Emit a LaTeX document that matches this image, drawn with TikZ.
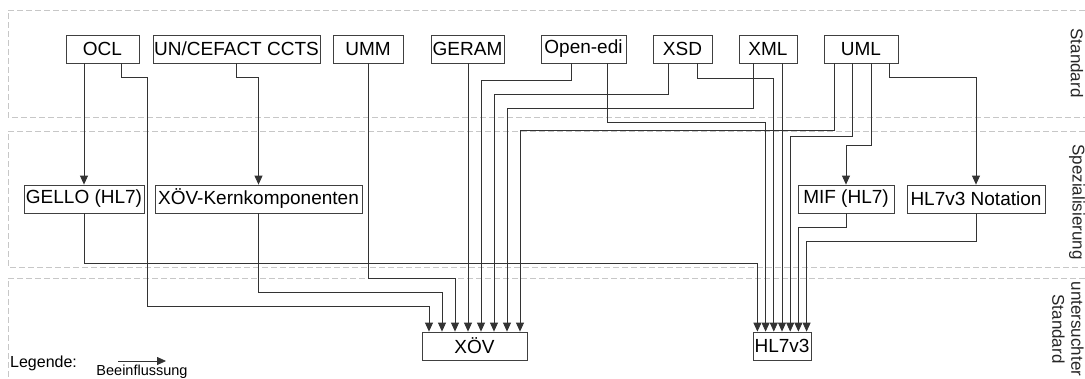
\documentclass[tikz,border=0pt]{standalone}
\usepackage{fontspec}
\setmainfont{Liberation Sans}
\usepackage{xcolor}
\usepackage{tikz}
\usetikzlibrary{arrows.meta}

\begin{document}
\begin{tikzpicture}[
    x={(1pt,0)}, y={(0,-1pt)},
    std_box/.style={draw=black!75, line width=0.8pt, fill=white, minimum height=28pt, inner sep=0pt, font=\fontsize{19}{21}\selectfont},
    infl_line/.style={line width=0.8pt, draw=black!80, -{Triangle[length=9pt,width=8pt]}},
    band_line/.style={draw=black!22, line width=0.8pt, dash pattern=on 6pt off 3pt},
    band_label/.style={rotate=-90, align=center, font=\fontsize{17}{19}\selectfont, text=black!85}
]
    \useasboundingbox (0,0) rectangle (1085,378);

    % Bands
    \draw [band_line] (1085,10) -- (8,10) -- (8,117) -- (1085,117);
    \draw [band_line] (1085,131) -- (8,131) -- (8,267) -- (1085,267);
    \draw [band_line] (1085,278) -- (8,278) -- (8,378);
    \node (lbl_std) [band_label] at (1077,63) {Standard};
    \node (lbl_spez) [band_label] at (1077,202) {Spezialisierung};
    \node (lbl_unt) [band_label] at (1068,329) {untersuchter\\Standard};

    % Standards
    \node (ocl) [std_box, minimum width=73pt] at (102.5,49) {OCL};
    \node (ccts) [std_box, minimum width=167pt] at (236.5,49) {UN/CEFACT CCTS};
    \node (umm) [std_box, minimum width=70pt] at (368,49) {UMM};
    \node (geram) [std_box, minimum width=73pt] at (467.5,49) {GERAM};
    \node (openedi) [std_box, minimum width=85pt] at (583.5,49) {Open-edi};
    \node (xsd) [std_box, minimum width=59pt] at (682.5,49) {XSD};
    \node (xml) [std_box, minimum width=58pt] at (768,49) {XML};
    \node (uml) [std_box, minimum width=74pt] at (861,49) {UML};

    % Specialisations
    \node (gello) [std_box, minimum width=120pt] at (84,199) {GELLO (HL7)};
    \node (kern) [std_box, minimum width=207pt] at (258.5,199) {XÖV-Kernkomponenten};
    \node (mif) [std_box, minimum width=96pt] at (846,199) {MIF (HL7)};
    \node (notation) [std_box, minimum width=138pt] at (976,199) {HL7v3 Notation};

    % Examined standards
    \node (xoev) [std_box, minimum width=105pt] at (474.5,346) {XÖV};
    \node (hl7) [std_box, minimum width=58pt] at (782,346) {HL7v3};

    % Influences
    \draw [infl_line] (gello.north |- ocl.south) -- (gello.north);
    \draw [infl_line] ([xshift=18.5]ocl.south) -- ++(0,14) -| (147,306) -| ([xshift=-45.5]xoev.north);
    \draw [infl_line] (ccts.south) -- ++(0,14) -| (kern.north);
    \draw [infl_line] (kern.south) -- ++(0,79) -| ([xshift=-32.5]xoev.north);
    \draw [infl_line] (gello.south) -- ++(0,50) -| ([xshift=-24.6]hl7.north);
    \draw [infl_line] (umm.south) -- ++(0,215) -| ([xshift=-19.5]xoev.north);
    \draw [infl_line] ([xshift=-6.5]xoev.north |- geram.south) -- ([xshift=-6.5]xoev.north);
    \draw [infl_line] ([xshift=-12.5]openedi.south) -- ++(0,17) -| ([xshift=6.5]xoev.north);
    \draw [infl_line] ([xshift=23.5]openedi.south) -- ++(0,59) -| ([xshift=-16.4]hl7.north);
    \draw [infl_line] ([xshift=-14.5]xsd.south) -- ++(0,31) -| ([xshift=19.5]xoev.north);
    \draw [infl_line] ([xshift=14.5]xsd.south) -- ++(0,15) -| ([xshift=-8.2]hl7.north);
    \draw [infl_line] ([xshift=-15]xml.south) -- ++(0,45) -| ([xshift=32.5]xoev.north);
    \draw [infl_line] (hl7.north |- xml.south) -- (hl7.north);
    \draw [infl_line] ([xshift=-27]uml.south) -- ++(0,67) -| ([xshift=45.5]xoev.north);
    \draw [infl_line] ([xshift=-9]uml.south) -- ++(0,73) -| ([xshift=8.2]hl7.north);
    \draw [infl_line] ([xshift=10]uml.south) -- ++(0,82) -| (mif.north);
    \draw [infl_line] ([xshift=28]uml.south) -- ++(0,14) -| (notation.north);
    \draw [infl_line] (mif.south) -- ++(0,14) -| ([xshift=16.4]hl7.north);
    \draw [infl_line] (notation.south) -- ++(0,28) -| ([xshift=24.6]hl7.north);

    % Legend
    \node (legend) [anchor=west, inner sep=0pt, font=\fontsize{16}{18}\selectfont] at (10,363) {Legende:};
    \coordinate (leg_from) at (118,361);
    \coordinate (leg_to) at (166,361);
    \draw [infl_line] (leg_from) -- (leg_to);
    \node (leg_text) [inner sep=0pt, font=\fontsize{14.5}{16}\selectfont] at (142,372) {Beeinflussung};
\end{tikzpicture}
\end{document}
